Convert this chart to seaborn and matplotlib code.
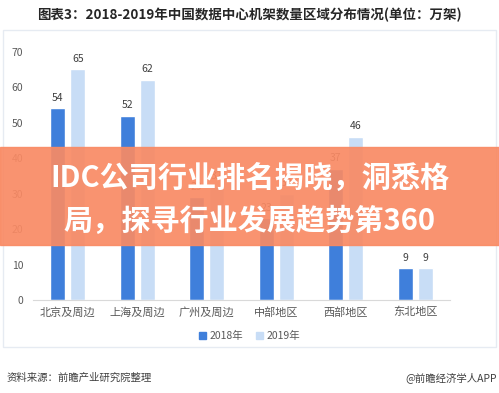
import numpy as np
import pandas as pd
import matplotlib.pyplot as plt
import matplotlib.patches as mpatches
import seaborn as sns

## datos
regions = ['北京及周边', '上海及周边', '广州及周边', '中部地区', '西部地区', '东北地区']
years = ['2018年', '2019年']
racks_2018 = [54, 52, 29, 23, 37, 9]
racks_2019 = [65, 62, 32, 30, 46, 9]
y_ticks = [0, 10, 20, 30, 40, 50, 60, 70]

df = pd.DataFrame({
    'region': regions * 2,
    'year': [years[0]] * len(regions) + [years[1]] * len(regions),
    'racks': racks_2018 + racks_2019,
})

sns.set_style('white')
plt.rcParams['font.family'] = ['Noto Sans CJK SC', 'DejaVu Sans']

fig = plt.figure(figsize=(4.99, 3.93), dpi=100)
ax = fig.add_axes([0.066, 0.2366, 0.836, 0.632])

colors = ['#3F7FDB', '#C8DDF6']
sns.barplot(data=df, x='region', y='racks', hue='year', order=regions,
            hue_order=years, palette=colors, width=0.58, gap=0.26,
            saturation=1, ax=ax, legend=False)

# etiquetas de valores
for cont in ax.containers:
    for bar in cont:
        h = bar.get_height()
        ax.annotate(f'{h:.0f}', (bar.get_x() + bar.get_width() / 2, h),
                    xytext=(0, 4), textcoords='offset points',
                    ha='center', va='bottom', fontsize=7.5, color='#404040',
                    annotation_clip=False)

ax.set_xlim(-0.5, 5.5)
ax.set_ylim(0, 70)
ax.set_yticks(y_ticks)
ax.set_xlabel('')
ax.set_ylabel('')
ax.tick_params(axis='y', length=0, pad=7, labelsize=7.5, labelcolor='#595959')
ax.tick_params(axis='x', length=0, pad=5, labelsize=8, labelcolor='#595959')
for s in ['top', 'right', 'left']:
    ax.spines[s].set_visible(False)
ax.spines['bottom'].set_color('#D9D9D9')
ax.grid(False)

# leyenda
handles = [mpatches.Patch(color=c, label=y) for c, y in zip(colors, years)]
fig.legend(handles=handles, loc='center', bbox_to_anchor=(0.5, 0.145), ncol=2,
           frameon=False, fontsize=7.5, handlelength=0.7, handleheight=0.7,
           handletextpad=0.3, columnspacing=1.2, labelcolor='#595959')

# marco del grafico
fig.patches.append(mpatches.Rectangle((3 / 499, 1 - 347 / 393), 493 / 499, 317 / 393,
                                      transform=fig.transFigure, fill=False,
                                      edgecolor='#E6EBF2', linewidth=1))

# titulo y fuente
fig.text(0.5, 1 - 15 / 393, '图表3：2018-2019年中国数据中心机架数量区域分布情况(单位：万架)',
         ha='center', va='center', fontsize=9.7, fontweight='bold', color='#262626')
fig.text(7 / 499, 1 - 378 / 393, '资料来源：前瞻产业研究院整理', ha='left', va='center',
         fontsize=7.5, color='#404040')
fig.text(497 / 499, 1 - 378 / 393, '@前瞻经济学人APP', ha='right', va='center',
         fontsize=7.5, color='#404040')

# banda naranja
fig.patches.append(mpatches.Rectangle((0, 1 - 245 / 393), 1, 98 / 393,
                                      transform=fig.transFigure, color='#F98A64',
                                      alpha=0.92, zorder=10))
fig.text(0.5, 1 - 178 / 393, 'IDC公司行业排名揭晓，洞悉格', ha='center', va='center',
         fontsize=21, fontweight='bold', color='white', zorder=11)
fig.text(0.5, 1 - 221 / 393, '局，探寻行业发展趋势第360', ha='center', va='center',
         fontsize=21, fontweight='bold', color='white', zorder=11)

fig.savefig('out.png', dpi=100)
